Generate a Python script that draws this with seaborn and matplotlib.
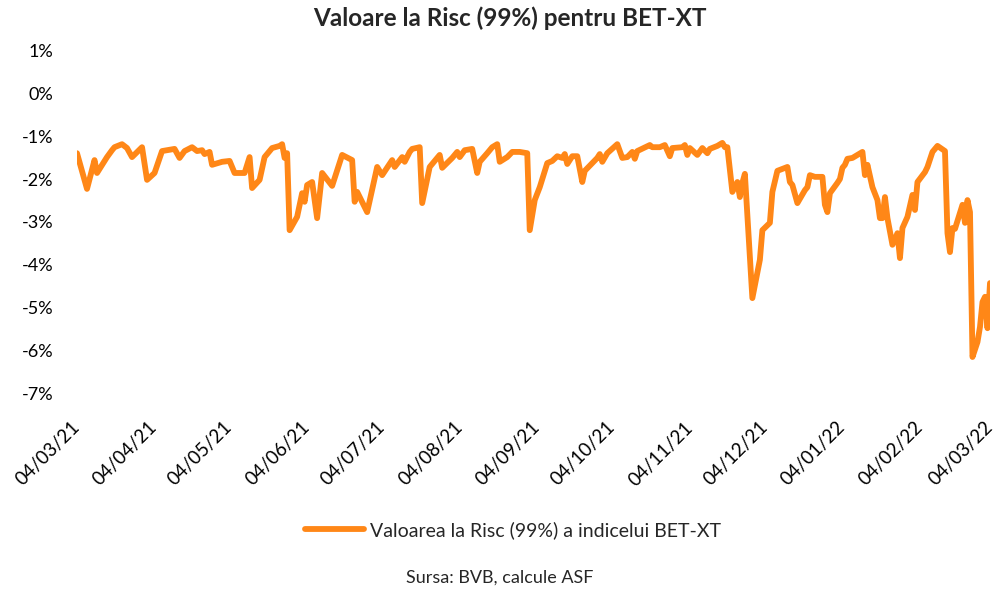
import pandas as pd
import seaborn as sns
import matplotlib.pyplot as plt
import matplotlib.dates as mdates
import matplotlib.ticker as mticker

sns.set_style('white')
plt.rcParams['font.family'] = ['Lato', 'DejaVu Sans']

# Data: days since 04/03/2021 and VaR 99% (in %)
start_date = pd.Timestamp('2021-03-04')
day_offsets = [0, 4, 7, 8, 12, 14, 15, 18, 20, 22, 26, 28, 31, 34, 39, 41, 43, 46, 48, 50,
               51, 53, 54, 58, 61, 63, 67, 69, 70, 73, 75, 78, 81, 82, 83, 84, 85, 88, 90, 91,
               92, 94, 96, 98, 102, 106, 110, 111, 112, 116, 120, 122, 126, 127, 130, 131, 133, 134, 137, 138,
               141, 145, 146, 150, 152, 153, 155, 158, 160, 161, 164, 166, 168, 169, 172, 174, 177, 180, 181, 183,
               185, 188, 190, 192, 194, 195, 196, 198, 200, 202, 203, 208, 209, 210, 212, 216, 218, 220, 222, 223,
               224, 229, 230, 233, 235, 237, 238, 242, 243, 244, 245, 248, 250, 252, 253, 256, 258, 259, 260, 262,
               264, 265, 266, 267, 270, 273, 274, 277, 278, 280, 284, 285, 286, 288, 291, 292, 293, 295, 298, 299,
               300, 301, 304, 305, 306, 307, 308, 310, 314, 315, 316, 318, 320, 321, 322, 323, 324, 326, 328, 329,
               330, 332, 334, 335, 336, 339, 340, 342, 344, 347, 348, 349, 350, 351, 354, 355, 356, 357, 358, 360,
               361, 362, 363, 364, 365]
var_99 = [-1.40, -2.23, -1.56, -1.86, -1.49, -1.33, -1.26, -1.19, -1.28, -1.49, -1.26, -2.02, -1.86, -1.35, -1.30, -1.51, -1.35, -1.26, -1.35, -1.33,
          -1.42, -1.37, -1.67, -1.60, -1.58, -1.86, -1.86, -1.49, -2.21, -2.02, -1.49, -1.28, -1.23, -1.19, -1.51, -1.40, -3.19, -2.88, -2.33, -2.53,
          -2.14, -2.07, -2.91, -1.86, -2.16, -1.44, -1.56, -2.53, -2.30, -2.77, -1.72, -1.91, -1.56, -1.72, -1.49, -1.60, -1.37, -1.30, -1.26, -2.56,
          -1.72, -1.44, -1.74, -1.51, -1.37, -1.49, -1.33, -1.30, -1.86, -1.60, -1.40, -1.26, -1.19, -1.60, -1.49, -1.37, -1.37, -1.40, -3.19, -2.49,
          -2.19, -1.63, -1.58, -1.47, -1.51, -1.42, -1.65, -1.47, -1.47, -2.07, -1.81, -1.51, -1.42, -1.60, -1.40, -1.19, -1.51, -1.49, -1.37, -1.53,
          -1.35, -1.21, -1.26, -1.26, -1.21, -1.47, -1.28, -1.26, -1.21, -1.44, -1.28, -1.44, -1.28, -1.40, -1.30, -1.23, -1.16, -1.26, -1.26, -2.30,
          -2.07, -2.42, -2.09, -1.88, -4.77, -3.88, -3.19, -3.02, -2.30, -1.81, -1.72, -2.07, -2.14, -2.56, -2.26, -2.19, -1.91, -1.95, -1.95, -2.60,
          -2.77, -2.33, -2.09, -2.00, -1.74, -1.67, -1.53, -1.51, -1.37, -1.91, -1.67, -2.19, -2.49, -2.91, -2.91, -2.42, -2.91, -3.53, -3.26, -3.84,
          -3.14, -2.88, -2.37, -2.72, -2.07, -1.84, -1.72, -1.37, -1.23, -1.35, -3.26, -3.70, -3.14, -3.16, -2.60, -3.02, -2.49, -2.77, -6.14, -5.79,
          -5.44, -4.86, -4.74, -5.47, -4.42]

series_label = "Valoarea la Risc (99%) a indicelui BET-XT"
title = "Valoare la Risc (99%) pentru BET-XT"
source = "Sursa: BVB, calcule ASF"
y_ticks = list(range(-7, 2))

df = pd.DataFrame({
    'data': start_date + pd.to_timedelta(day_offsets, unit='D'),
    'var': var_99,
})

fig = plt.figure(figsize=(10, 5.92), dpi=100)
ax = fig.add_axes([0.077, 0.3345, 0.913, 0.581])

sns.lineplot(data=df, x='data', y='var', ax=ax, color='#FF8717', linewidth=4.2,
             label=series_label, legend=False,
             solid_joinstyle='round', solid_capstyle='round')

ax.set_ylim(-7, 1)
ax.set_yticks(y_ticks)
ax.yaxis.set_major_formatter(mticker.FuncFormatter(lambda v, p: f"{v:.0f}%"))
ax.set_xlim(start_date, start_date + pd.DateOffset(years=1))
month_ticks = [start_date + pd.DateOffset(months=i) for i in range(13)]
ax.set_xticks(month_ticks)
ax.xaxis.set_major_formatter(mdates.DateFormatter('%d/%m/%y'))

for lbl in ax.get_xticklabels():
    lbl.set_rotation(45)
    lbl.set_ha('right')
    lbl.set_va('center')
    lbl.set_rotation_mode('anchor')

ax.tick_params(axis='both', length=0, colors='#000000')
ax.tick_params(axis='y', pad=17, labelsize=13)
ax.tick_params(axis='x', pad=22, labelsize=13.5)
ax.set_xlabel('')
ax.set_ylabel('')
sns.despine(ax=ax, left=True, bottom=True)

fig.text(0.51, 1 - 18 / 592, title, ha='center', va='center', fontsize=17.5, fontweight='bold')

handles, labels = ax.get_legend_handles_labels()
fig.legend(handles, labels, loc='center', bbox_to_anchor=(0.513, 1 - 530 / 592),
           frameon=False, fontsize=14, handlelength=3.0, handletextpad=0.3)

fig.text(0.5, 1 - 578 / 592, source, ha='center', va='center', fontsize=13)

fig.savefig('out.png', dpi=100)
